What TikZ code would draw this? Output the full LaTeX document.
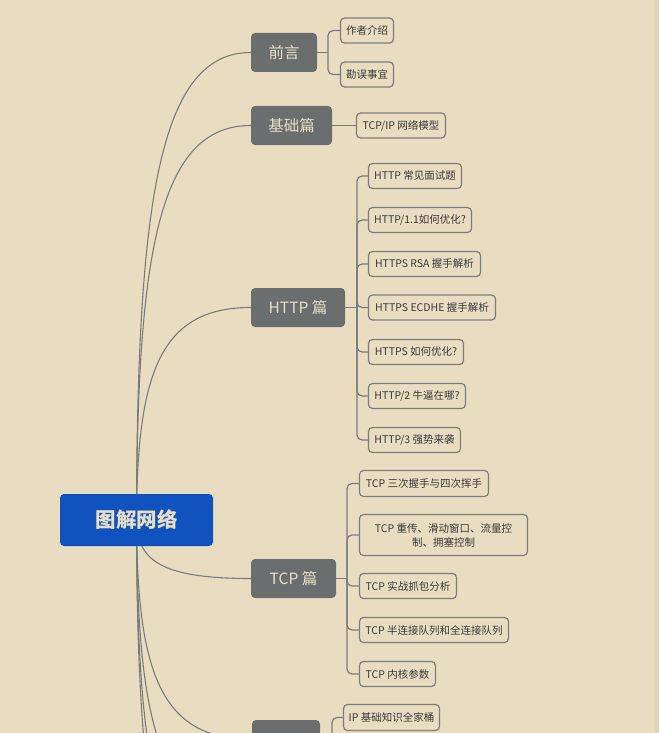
\documentclass[tikz,border=0pt]{standalone}
\usepackage{fontspec}
\setmainfont{Noto Sans CJK SC}
\pgfdeclarelayer{bg}
\pgfdeclarelayer{lines}
\pgfsetlayers{bg,lines,main}
\definecolor{bgc}{RGB}{232,221,193}
\definecolor{stripc}{RGB}{226,213,180}
\definecolor{rootc}{RGB}{17,83,190}
\definecolor{topicc}{RGB}{106,110,110}
\definecolor{linec}{RGB}{122,124,124}
\definecolor{boxline}{RGB}{125,125,122}
\definecolor{txtdark}{RGB}{58,58,58}
\definecolor{txtlight}{RGB}{232,222,200}
\begin{document}
\begin{tikzpicture}[x=1pt,y=-1pt,
  rootbox/.style={fill=rootc, rounded corners=4pt, inner sep=0pt, text=txtlight,
    font=\fontsize{20.5}{24}\selectfont\bfseries},
  topicbox/.style={fill=topicc, rounded corners=4pt, inner sep=0pt, minimum height=39pt,
    text=txtlight, font=\fontsize{15.5}{18}\selectfont},
  subbox/.style={draw=boxline, line width=1.2pt, fill=bgc, rounded corners=4pt, inner sep=0pt,
    minimum height=25pt, text=txtdark, font=\fontsize{10.5}{14}\selectfont},
  curve/.style={draw=linec, line width=1.1pt},
  conn/.style={draw=linec, line width=1.2pt, rounded corners=5pt}]
\useasboundingbox (0,0) rectangle (659,733);
\clip (0,0) rectangle (659,733);
% root
\node[rootbox, minimum width=153pt, minimum height=52pt] (root) at (136.5,520) {图解网络};
% topics
\node[topicbox, minimum width=66pt] (pre) at (284,52.5) {前言};
\node[topicbox, minimum width=81pt] (base) at (291.5,125.5) {基础篇};
\node[topicbox, minimum width=94pt] (http) at (298,307.5) {HTTP 篇};
\node[topicbox, minimum width=85pt] (tcp) at (293.5,578.5) {TCP 篇};
\node[topicbox, minimum width=68pt] (ip) at (286,739.5) {};
% subtopics
\node[subbox, minimum width=53pt] (a1) at (367,30.5) {作者介绍};
\node[subbox, minimum width=53pt] (a2) at (367,74.5) {勘误事宜};
\node[subbox, minimum width=89pt] (b1) at (401,125.5) {TCP/IP 网络模型};
\node[subbox, minimum width=93pt] (h1) at (415,176) {HTTP 常见面试题};
\node[subbox, minimum width=103pt] (h2) at (420,220) {HTTP/1.1如何优化?};
\node[subbox, minimum width=112pt] (h3) at (424.5,264) {HTTPS RSA 握手解析};
\node[subbox, minimum width=127pt] (h4) at (432,307.5) {HTTPS ECDHE 握手解析};
\node[subbox, minimum width=95pt] (h5) at (416,352) {HTTPS 如何优化?};
\node[subbox, minimum width=97pt] (h6) at (417,396) {HTTP/2 牛逼在哪?};
\node[subbox, minimum width=92pt] (h7) at (414.5,440) {HTTP/3 强势来袭};
\node[subbox, minimum width=129pt, minimum height=26pt] (t1) at (424,483.5) {TCP 三次握手与四次挥手};
\node[subbox, minimum width=168pt, minimum height=41pt, align=center] (t2) at (443.5,535)
  {TCP 重传、滑动窗口、流量控\\制、拥塞控制};
\node[subbox, minimum width=97pt] (t3) at (408,586) {TCP 实战抓包分析};
\node[subbox, minimum width=149pt] (t4) at (434,630) {TCP 半连接队列和全连接队列};
\node[subbox, minimum width=76pt] (t5) at (397.5,674) {TCP 内核参数};
\node[subbox, minimum width=96pt, minimum height=26pt] (i1) at (391.5,717.5) {IP 基础知识全家桶};
% bus points
\coordinate (pb) at (328,52.5);
\coordinate (hb) at (357,307.5);
\coordinate (tb) at (347,578.5);
\coordinate (ib) at (332,739.5);
\coordinate (ibend) at (332,770);
\coordinate (off1) at (251,815);
\coordinate (off2) at (251,890);
\coordinate (off3) at (251,950);
\begin{pgfonlayer}{bg}
  \fill[bgc] (0,0) rectangle (659,733);
  \fill[stripc] (654,0) rectangle (659,733);
\end{pgfonlayer}
\begin{pgfonlayer}{lines}
  \clip (0,0) rectangle (659,733);
  % main curves
  \draw[curve] (root.center) .. controls (137,198) and (160,52.5) .. (pre.west);
  \draw[curve] (root.center) .. controls (137,248) and (160,125.5) .. (base.west);
  \draw[curve] (root.center) .. controls (137,373) and (160,307.5) .. (http.west);
  \draw[curve] (root.center) .. controls (137,560) and (160,578.5) .. (tcp.west);
  \draw[curve] (root.center) .. controls (137,671) and (160,739.5) .. (ip.west);
  \draw[curve] (root.center) .. controls (137,724) and (160,815) .. (off1);
  \draw[curve] (root.center) .. controls (137,776) and (160,890) .. (off2);
  \draw[curve] (root.center) .. controls (137,817) and (160,950) .. (off3);
  % branches
  \draw[conn] (pre.east) -- (pb);
  \draw[conn] (pb) |- (a1.west);
  \draw[conn] (pb) |- (a2.west);
  \draw[conn] (base.east) -- (b1.west);
  \draw[conn] (http.east) -- (hb);
  \foreach \c in {h1,h2,h3,h4,h5,h6,h7} \draw[conn] (hb) |- (\c.west);
  \draw[conn] (tcp.east) -- (tb);
  \foreach \c in {t1,t2,t3,t4,t5} \draw[conn] (tb) |- (\c.west);
  \draw[conn] (ip.east) -- (ib);
  \draw[conn] (ibend) |- (i1.west);
\end{pgfonlayer}
\end{tikzpicture}
\end{document}
